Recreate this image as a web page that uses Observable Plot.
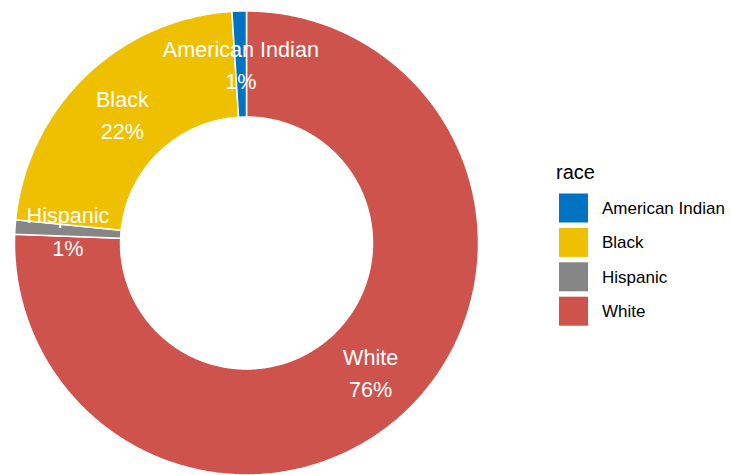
<!DOCTYPE html>
<html><head><meta charset="utf-8">
<script src="https://cdn.jsdelivr.net/npm/d3@7"></script>
<script src="https://cdn.jsdelivr.net/npm/@observablehq/plot@0.6"></script>
<style>
body{margin:0;background:#fff;font-family:"Liberation Sans",Arial,sans-serif;}
#wrap{position:relative;width:731px;height:475px;}
#legend{position:absolute;left:0;top:0;pointer-events:none;}
</style></head><body><div id="wrap"></div>
<script>
const races = ["American Indian", "Black", "Hispanic", "White"];
const shares = [1.0, 22.4, 1.0, 75.6];
const palette = ["#0073C2", "#EFC000", "#868686", "#CD534C"];
const legendTitle = "race";
// clockwise order from 12 o'clock (ggplot stacking order)
const order = ["White", "Hispanic", "Black", "American Indian"];

const total = d3.sum(shares);
let acc = 0;
const slices = order.map(name => {
  const i = races.indexOf(name);
  const v = shares[i];
  const s = {race: name, value: v, a0: acc / total * 2 * Math.PI, a1: (acc + v) / total * 2 * Math.PI};
  acc += v;
  return s;
});
const rOuter = 1, rInner = 0.543, rLabel = (rOuter + rInner) / 2;
const pts = [];
for (const s of slices) {
  const n = Math.max(3, Math.ceil((s.a1 - s.a0) / (Math.PI / 360)));
  const ring = [];
  for (let k = 0; k <= n; k++) {
    const a = s.a0 + (s.a1 - s.a0) * k / n;
    ring.push({race: s.race, x: rOuter * Math.sin(a), y: rOuter * Math.cos(a)});
  }
  for (let k = n; k >= 0; k--) {
    const a = s.a0 + (s.a1 - s.a0) * k / n;
    ring.push({race: s.race, x: rInner * Math.sin(a), y: rInner * Math.cos(a)});
  }
  ring.push({...ring[0]});
  pts.push(...ring);
}
const labels = slices.map(s => {
  const a = (s.a0 + s.a1) / 2;
  return {race: s.race, x: rLabel * Math.sin(a), y: rLabel * Math.cos(a),
          text: s.race + "\n" + Math.round(s.value / total * 100) + "%"};
});

const plot = Plot.plot({
  width: 731, height: 475, margin: 0,
  x: {domain: [-1, 1], range: [14, 478], axis: null},
  y: {domain: [-1, 1], range: [474.5, 10.5], axis: null},
  color: {domain: races, range: palette},
  style: {fontFamily: '"Liberation Sans", Arial, sans-serif', background: "white"},
  marks: [
    Plot.line(pts, {x: "x", y: "y", z: "race", fill: "race", stroke: "white", strokeWidth: 1.5, curve: "linear"}),
    Plot.text(labels, {x: "x", y: "y", text: "text", fill: "white", fontSize: 21.6, lineHeight: 1.5, dy: -1.5})
  ]
});
const wrap = document.getElementById("wrap");
wrap.appendChild(plot);

// legend from the plot's color scale
const cs = plot.scale("color");
const ns = "http://www.w3.org/2000/svg";
const lg = document.createElementNS(ns, "svg");
lg.setAttribute("id", "legend");
lg.setAttribute("width", 731);
lg.setAttribute("height", 475);
lg.setAttribute("font-family", '"Liberation Sans", Arial, sans-serif');
const t = document.createElementNS(ns, "text");
t.setAttribute("x", 556); t.setAttribute("y", 179);
t.setAttribute("font-size", 20); t.setAttribute("fill", "#000");
t.textContent = legendTitle;
lg.appendChild(t);
cs.domain.forEach((d, i) => {
  const y0 = 193.5 + i * 34.4;
  const r = document.createElementNS(ns, "rect");
  r.setAttribute("x", 559); r.setAttribute("y", y0);
  r.setAttribute("width", 29); r.setAttribute("height", 29);
  r.setAttribute("fill", cs.range[i]);
  lg.appendChild(r);
  const tx = document.createElementNS(ns, "text");
  tx.setAttribute("x", 602); tx.setAttribute("y", y0 + 14.5);
  tx.setAttribute("dy", "0.35em");
  tx.setAttribute("font-size", 17); tx.setAttribute("fill", "#000");
  tx.textContent = d;
  lg.appendChild(tx);
});
wrap.appendChild(lg);
</script></body></html>
